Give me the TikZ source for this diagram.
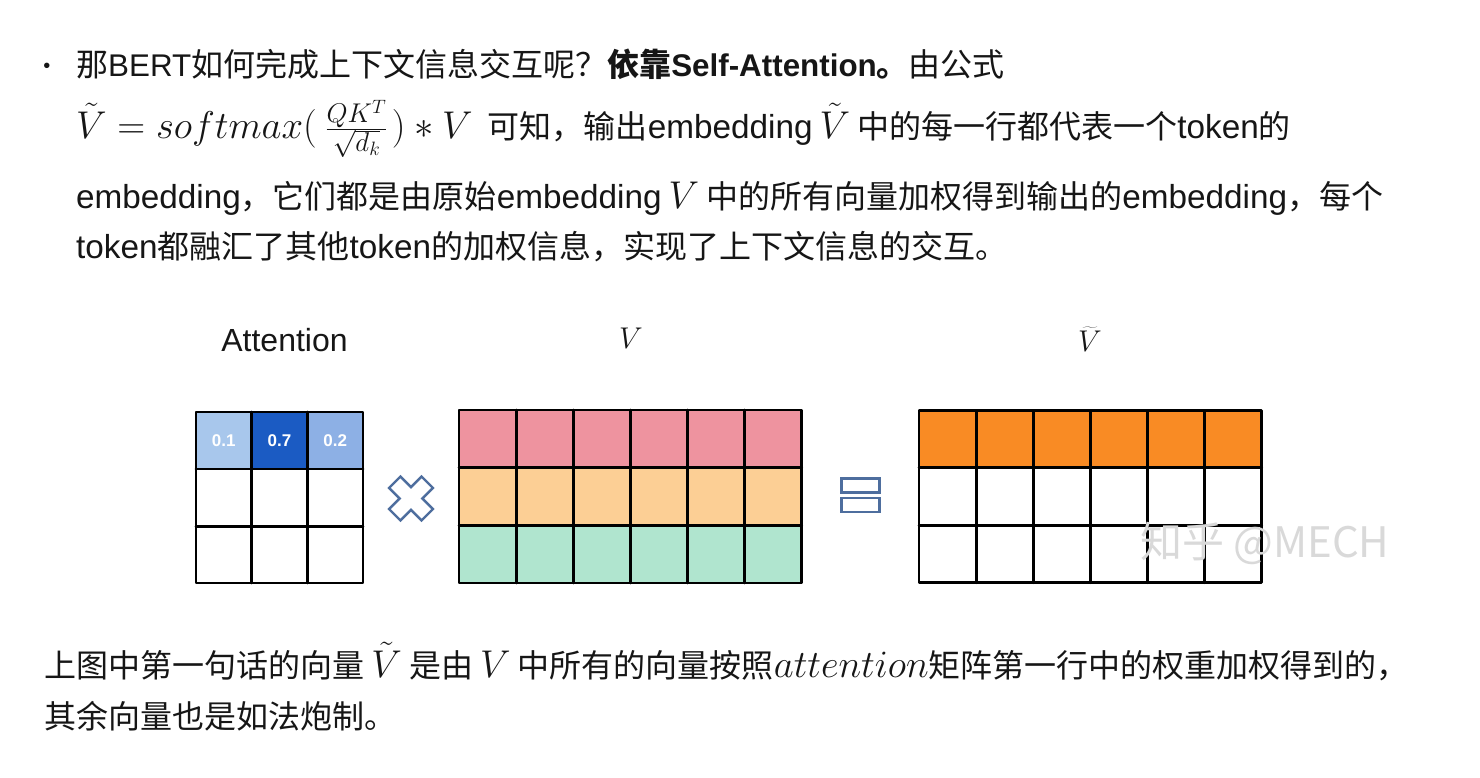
\RequirePackage{fix-cm}
\documentclass[tikz,border=0pt]{standalone}
\usepackage[no-math]{fontspec}
\setmainfont{Noto Sans CJK SC}
\newfontfamily\latf[Scale=1.04]{Liberation Sans}
\newfontfamily\latbf[Scale=0.98]{Liberation Sans}
\newfontfamily\arialf{Liberation Sans}
\newcommand\lat[1]{{\latf #1}}
\newcommand\latb[1]{{\latbf #1}}
\newcommand\M[1]{{\fontsize{38.7}{42}\selectfont$#1$}}
\definecolor{txtc}{HTML}{161616}
\definecolor{rowred}{HTML}{EE939F}
\definecolor{roworange}{HTML}{FCCF95}
\definecolor{rowgreen}{HTML}{B0E5CF}
\definecolor{outorange}{HTML}{F98B24}
\definecolor{attA}{HTML}{A8C7EC}
\definecolor{attB}{HTML}{1B5BC3}
\definecolor{attC}{HTML}{8DB0E5}
\definecolor{opblue}{HTML}{4E6E9E}
\tikzset{
  txt/.style={inner sep=0pt, anchor=base west, text=txtc, font=\fontsize{32}{38}\selectfont},
  gridline/.style={line width=2.8pt, line join=round, line cap=round, draw=black},
  cellnum/.style={inner sep=0pt, text=white, font=\arialf\bfseries\fontsize{17}{20}\selectfont},
  opsym/.style={draw=opblue, line width=2.4pt, line join=miter},
}
\begin{document}
\begin{tikzpicture}[x=1pt,y=-1pt]
\useasboundingbox[fill=white] (0,0) rectangle (1480,778);

% bullet
\node[inner sep=0pt, text=txtc, font=\arialf\fontsize{20}{24}\selectfont] (bul) at (47,68) {•};

% paragraph lines
\node[txt] (l1) at (76,76.5) {那\latb{BERT}如何完成上下文信息交互呢？\textbf{依靠\latb{Self-Attention}。}由公式};
\node[txt] (l2) at (76,138.5) {\M{\tilde{V} = softmax(\mskip4mu\frac{QK^T}{\sqrt{d_k\vphantom{g}}}\mskip2mu) * V}\hspace{8pt} 可知，输出\lat{embedding} \M{\tilde{V}} 中的每一行都代表一个\lat{token}的};
\node[txt] (l3) at (76,208.5) {\lat{embedding}，它们都是由原始\lat{embedding} \M{V} 中的所有向量加权得到输出的\lat{embedding}，每个};
\node[txt] (l4) at (76,258.5) {\lat{token}都融汇了其他\lat{token}的加权信息，实现了上下文信息的交互。};

% labels above matrices
\node[inner sep=0pt, anchor=base, text=txtc, font=\arialf\fontsize{32}{38}\selectfont] (attlabel) at (284.5,351.5) {Attention};
\node[inner sep=0pt, anchor=base, text=txtc, font=\fontsize{30}{36}\selectfont] (vlabel) at (631,348) {$V$};
\node[inner sep=0pt, anchor=base, text=txtc, font=\fontsize{30}{36}\selectfont] (vtlabel) at (1090,351) {$\widetilde{V}$};

% Attention matrix
\fill[attA] (196,412) rectangle (251.7,469);
\fill[attB] (251.7,412) rectangle (307.3,469);
\fill[attC] (307.3,412) rectangle (363,469);
\draw[gridline] (196,412) rectangle (363,583);
\draw[gridline] (251.7,412) -- (251.7,583) (307.3,412) -- (307.3,583)
                (196,469) -- (363,469) (196,526.3) -- (363,526.3);
\node[cellnum] (n1) at (223.8,440.5) {0.1};
\node[cellnum] (n2) at (279.5,440.5) {0.7};
\node[cellnum] (n3) at (335.2,440.5) {0.2};

% multiply sign
\begin{scope}[shift={(411,498.5)}, rotate=45]
\draw[opsym] (8,23) -- (8,8) -- (23,8) -- (23,-8) -- (8,-8) -- (8,-23) -- (-8,-23) -- (-8,-8) -- (-23,-8) -- (-23,8) -- (-8,8) -- (-8,23) -- cycle;
\end{scope}

% V matrix
\fill[rowred] (459,410) rectangle (801.7,467.5);
\fill[roworange] (459,467.5) rectangle (801.7,525.5);
\fill[rowgreen] (459,525.5) rectangle (801.7,583);
\draw[gridline] (459,410) rectangle (801.7,583);
\foreach \i in {1,...,5} {
  \draw[gridline] ({459+57.12*\i},410) -- ({459+57.12*\i},583);
}
\draw[gridline] (459,467.5) -- (801.7,467.5) (459,525.5) -- (801.7,525.5);

% equals sign
\draw[opsym] (841.5,478.5) rectangle (879.5,492.5);
\draw[opsym] (841.5,498) rectangle (879.5,512);

% V tilde matrix
\fill[outorange] (919,410.5) rectangle (1261.7,467.7);
\draw[gridline] (919,410.5) rectangle (1261.7,582.7);
\foreach \i in {1,...,5} {
  \draw[gridline] ({919+57.12*\i},410.5) -- ({919+57.12*\i},582.7);
}
\draw[gridline] (919,467.7) -- (1261.7,467.7) (919,525.7) -- (1261.7,525.7);

% watermark
\node[inner sep=0pt, anchor=base west, text=gray!30, font=\fontsize{42}{46}\selectfont] (wm) at (1140,557) {知乎 @MECH};

% caption below
\node[txt] (c1) at (44,677.5) {上图中第一句话的向量 \M{\tilde{V}} 是由 \M{V} 中所有的向量按照\M{attention}矩阵第一行中的权重加权得到的，};
\node[txt] (c2) at (44,728.5) {其余向量也是如法炮制。};
\end{tikzpicture}
\end{document}
